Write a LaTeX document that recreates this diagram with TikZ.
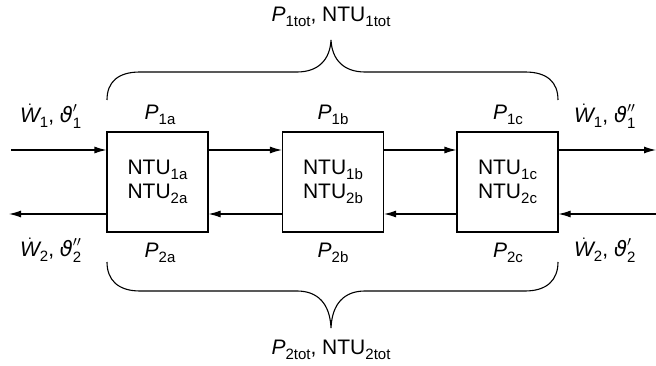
\documentclass[tikz,border=0pt]{standalone}
\usepackage{fontspec}
\setmainfont{Liberation Sans}
\newfontfamily\grk{DejaVu Sans}
\usetikzlibrary{arrows.meta}
\newcommand{\lowtxt}[1]{\raisebox{-0.4ex}{\fontsize{15}{15}\selectfont #1}}
\newcommand{\thv}[2]{${\mbox{\grk\itshape ϑ}}^{#1}_{\mbox{\fontsize{15}{15}\selectfont #2}}$}
\begin{document}
\begin{tikzpicture}[x=1pt,y=-1pt,
  hx/.style={draw,line width=1.1pt,minimum width=101pt,minimum height=100pt,inner sep=0pt,align=center,font=\fontsize{21}{24}\selectfont},
  lbl/.style={font=\fontsize{21}{24}\selectfont,inner sep=0pt},
  flow/.style={line width=1.1pt,-{Latex[length=12pt,width=7pt]}},
  brace/.style={line width=1.1pt}]
\useasboundingbox (0,0) rectangle (656,366);
\node[hx] (a) at (157.5,182) {NTU\lowtxt{1a}\\NTU\lowtxt{2a}};
\node[hx] (b) at (333,182) {NTU\lowtxt{1b}\\NTU\lowtxt{2b}};
\node[hx] (c) at (507.5,182) {NTU\lowtxt{1c}\\NTU\lowtxt{2c}};
\coordinate (inL) at (11,150);
\coordinate (outR) at (656,150);
\coordinate (inR) at (656,214);
\coordinate (outL) at (9,214);
\draw[flow] (inL) -- (inL -| a.west);
\draw[flow] (a.east |- inL) -- (b.west |- inL);
\draw[flow] (b.east |- inL) -- (c.west |- inL);
\draw[flow] (c.east |- inL) -- (outR);
\draw[flow] (inR) -- (inR -| c.east);
\draw[flow] (c.west |- inR) -- (b.east |- inR);
\draw[flow] (b.west |- inR) -- (a.east |- inR);
\draw[flow] (a.west |- inR) -- (outL);
% top brace
\draw[brace] (107,100) .. controls (107,82) and (118,72) .. (140,72) -- (297,72)
  .. controls (318,72) and (330,60) .. (331,40)
  .. controls (332,60) and (344,72) .. (365,72) -- (525,72)
  .. controls (547,72) and (558,82) .. (558,100);
% bottom brace
\draw[brace] (107,262) .. controls (107,280) and (118,291) .. (140,291) -- (297,291)
  .. controls (318,291) and (330,304) .. (331,328)
  .. controls (332,304) and (344,291) .. (365,291) -- (525,291)
  .. controls (547,291) and (558,280) .. (558,262);
\node[lbl] (t1) at (331,17) {\textit{P}\lowtxt{1tot}, NTU\lowtxt{1tot}};
\node[lbl] (t2) at (331,350) {\textit{P}\lowtxt{2tot}, NTU\lowtxt{2tot}};
\node[lbl] (p1a) at (160,115) {\textit{P}\lowtxt{1a}};
\node[lbl] (p1b) at (333,115) {\textit{P}\lowtxt{1b}};
\node[lbl] (p1c) at (508,115) {\textit{P}\lowtxt{1c}};
\node[lbl] (p2a) at (160,253) {\textit{P}\lowtxt{2a}};
\node[lbl] (p2b) at (333,253) {\textit{P}\lowtxt{2b}};
\node[lbl] (p2c) at (508,253) {\textit{P}\lowtxt{2c}};
\node[lbl] (w1l) at (51,116) {$\dot{\textit{W}}$\lowtxt{1}, \thv{\prime}{1}};
\node[lbl] (w2l) at (51,250) {$\dot{\textit{W}}$\lowtxt{2}, \thv{\prime\prime}{2}};
\node[lbl] (w1r) at (605,116) {$\dot{\textit{W}}$\lowtxt{1}, \thv{\prime\prime}{1}};
\node[lbl] (w2r) at (605,250) {$\dot{\textit{W}}$\lowtxt{2}, \thv{\prime}{2}};
\end{tikzpicture}
\end{document}
